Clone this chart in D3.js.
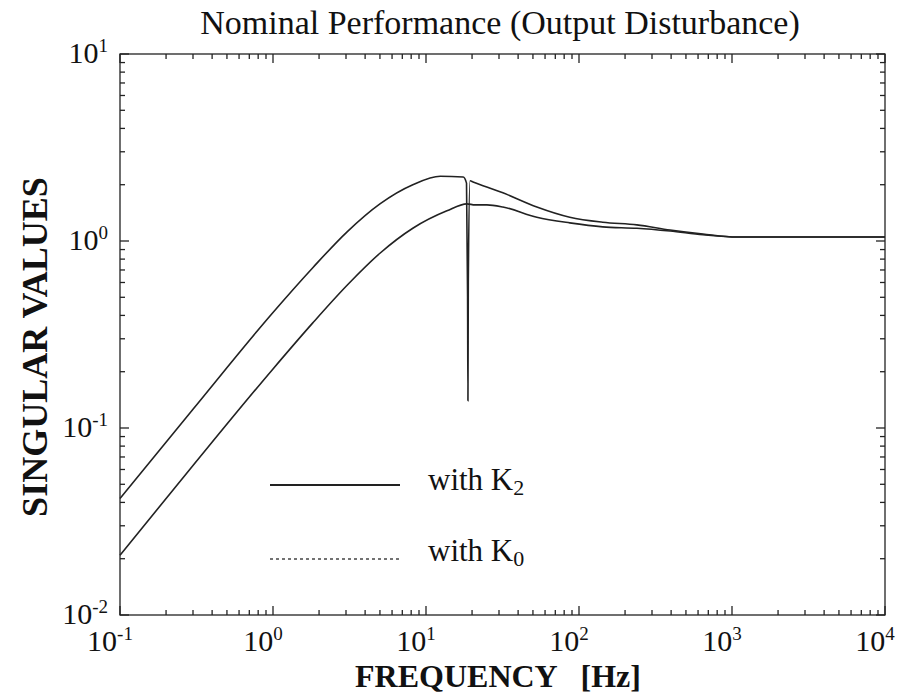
<!DOCTYPE html>
<html>
<head>
<meta charset="utf-8">
<script src="https://cdn.jsdelivr.net/npm/d3@7"></script>
<style>
  body { margin: 0; background: #fff; }
  text { font-family: "Liberation Serif", "DejaVu Serif", serif; fill: #111; }
</style>
</head>
<body>
<script>
// Frequency points (Hz) and singular values
const freqK2 = [0.1, 0.3, 1, 1.82, 3.05, 5.0, 8.2, 12.4, 17.5, 18.4, 18.7, 18.8, 18.9, 19.4, 20.3, 31.8, 53, 87, 143, 239, 394, 646, 1080, 3000, 10000];
const valK2  = [0.042, 0.126, 0.415, 0.72, 1.12, 1.58, 2.0, 2.22, 2.20, 2.04, 0.5, 0.14, 0.6, 2.1, 2.07, 1.81, 1.52, 1.34, 1.26, 1.22, 1.145, 1.09, 1.05, 1.05, 1.05];

const freqK0 = [0.1, 0.3, 1, 1.82, 3.05, 5.0, 8.2, 13.7, 18.5, 20.9, 25, 31.8, 53, 87, 143, 239, 394, 646, 1080, 3000, 10000];
const valK0  = [0.0209, 0.063, 0.207, 0.365, 0.58, 0.86, 1.17, 1.45, 1.58, 1.56, 1.56, 1.52, 1.34, 1.25, 1.19, 1.17, 1.13, 1.08, 1.05, 1.05, 1.05];

const xTickExp = [-1, 0, 1, 2, 3, 4];
const yTickExp = [-2, -1, 0, 1];

let width = 912, height = 697;
let margin = { top: 54, bottom: 82, left: 120, right: 27 };

let svg = d3.select('body').append('svg')
    .attr('width', width)
    .attr('height', height);

let xScale = d3.scaleLog()
    .domain([0.1, 10000])
    .range([margin.left, width - margin.right]);

let yScale = d3.scaleLog()
    .domain([0.01, 10])
    .range([height - margin.bottom, margin.top]);

// minor + major ticks for each decade
function logTicks(lo, hi) {
    let t = [];
    for (let e = lo; e < hi; e++) {
        for (let m = 1; m < 10; m++) t.push({ v: m * Math.pow(10, e), major: m === 1 });
    }
    t.push({ v: Math.pow(10, hi), major: true });
    return t;
}
const xt = logTicks(-1, 4), yt = logTicks(-2, 1);

let x0 = margin.left, x1 = width - margin.right;
let y0 = height - margin.bottom, y1 = margin.top;

let axes = svg.append('g').attr('stroke', '#222').attr('stroke-width', 1.3);

// frame
axes.append('rect')
    .attr('x', x0).attr('y', y1)
    .attr('width', x1 - x0).attr('height', y0 - y1)
    .attr('fill', 'none');

// x ticks, bottom and top, pointing inward
axes.selectAll('.xb').data(xt).enter().append('line')
    .attr('x1', d => xScale(d.v)).attr('x2', d => xScale(d.v))
    .attr('y1', y0).attr('y2', d => y0 - (d.major ? 9 : 5));
axes.selectAll('.xt').data(xt).enter().append('line')
    .attr('x1', d => xScale(d.v)).attr('x2', d => xScale(d.v))
    .attr('y1', y1).attr('y2', d => y1 + (d.major ? 9 : 5));

// y ticks, left and right
axes.selectAll('.yl').data(yt).enter().append('line')
    .attr('y1', d => yScale(d.v)).attr('y2', d => yScale(d.v))
    .attr('x1', x0).attr('x2', d => x0 + (d.major ? 9 : 5));
axes.selectAll('.yr').data(yt).enter().append('line')
    .attr('y1', d => yScale(d.v)).attr('y2', d => yScale(d.v))
    .attr('x1', x1).attr('x2', d => x1 - (d.major ? 9 : 5));

// tick labels as 10 with superscript exponent
function powLabel(sel, e) {
    sel.append('tspan').text('10');
    sel.append('tspan')
        .attr('font-size', 19)
        .attr('dy', -11)
        .text(e < 0 ? '-' + Math.abs(e) : e);
}

svg.selectAll('.xl').data(xTickExp).enter().append('text')
    .attr('x', d => xScale(Math.pow(10, d)) - 10)
    .attr('y', 651)
    .attr('text-anchor', 'middle')
    .attr('font-size', 30)
    .each(function(d) { powLabel(d3.select(this), d); });

svg.selectAll('.yl2').data(yTickExp).enter().append('text')
    .attr('x', 108)
    .attr('y', d => yScale(Math.pow(10, d)) + 9)
    .attr('text-anchor', 'end')
    .attr('font-size', 30)
    .each(function(d) { powLabel(d3.select(this), d); });

// curves
let line = d3.line()
    .x(d => xScale(d[0]))
    .y(d => yScale(d[1]))
    .curve(d3.curveMonotoneX);

const k2 = freqK2.map((f, i) => [f, valK2[i]]);
const k0 = freqK0.map((f, i) => [f, valK0[i]]);

svg.append('path')
    .datum(k2)
    .attr('d', line)
    .attr('fill', 'none')
    .attr('stroke', '#222')
    .attr('stroke-width', 1.6);

svg.append('path')
    .datum(k0)
    .attr('d', line)
    .attr('fill', 'none')
    .attr('stroke', '#222')
    .attr('stroke-width', 1.6);

// legend
svg.append('line')
    .attr('x1', 270).attr('x2', 400).attr('y1', 485).attr('y2', 485)
    .attr('stroke', '#222').attr('stroke-width', 2.2);
svg.append('text')
    .attr('x', 428).attr('y', 490)
    .attr('font-size', 31)
    .call(t => {
        t.append('tspan').text('with K');
        t.append('tspan').attr('font-size', 22).attr('dy', 5).text('2');
    });

svg.append('line')
    .attr('x1', 270).attr('x2', 400).attr('y1', 559).attr('y2', 559)
    .attr('stroke', '#444').attr('stroke-width', 1.3)
    .attr('stroke-dasharray', '3,3');
svg.append('text')
    .attr('x', 428).attr('y', 561)
    .attr('font-size', 31)
    .call(t => {
        t.append('tspan').text('with K');
        t.append('tspan').attr('font-size', 22).attr('dy', 5).text('0');
    });

// title
svg.append('text')
    .attr('x', 500).attr('y', 34)
    .attr('text-anchor', 'middle')
    .attr('font-size', 34)
    .text('Nominal Performance (Output Disturbance)');

// x-axis label
svg.append('text')
    .attr('x', 498).attr('y', 687)
    .attr('text-anchor', 'middle')
    .attr('font-size', 32)
    .attr('font-weight', 'bold')
    .attr('xml:space', 'preserve')
    .text('FREQUENCY   [Hz]');

// y-axis label
svg.append('text')
    .attr('transform', 'rotate(-90)')
    .attr('x', -347).attr('y', 47)
    .attr('text-anchor', 'middle')
    .attr('font-size', 36)
    .attr('font-weight', 'bold')
    .text('SINGULAR VALUES');
</script>
</body>
</html>
